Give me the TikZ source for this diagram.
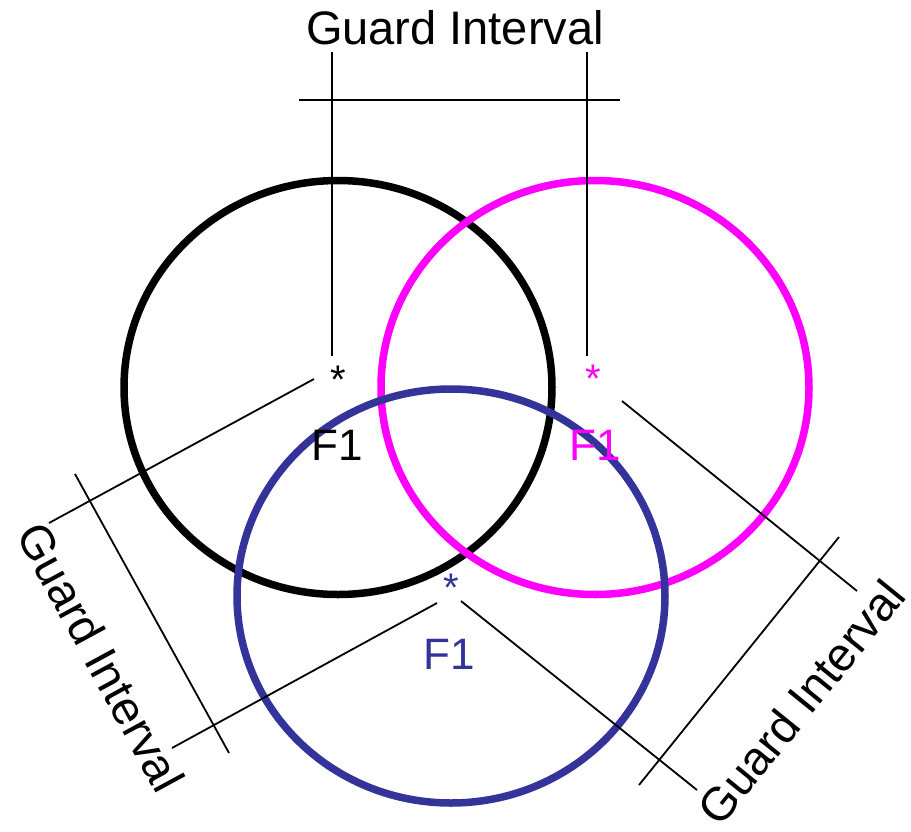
\documentclass[tikz,border=0pt]{standalone}
\usepackage{fontspec}
\setmainfont{Liberation Sans}
\usetikzlibrary{positioning}
\definecolor{fblue}{RGB}{51,51,153}
\definecolor{fmag}{RGB}{255,0,255}
\tikzset{
  ring/.style ={line width=7.5pt},
  gl/.style   ={line width=1.8pt},
  lbl/.style  ={font=\fontsize{44}{48}\selectfont, inner sep=0pt},
  gi/.style   ={font=\fontsize{47}{50}\selectfont, inner sep=0pt},
  star/.style ={font=\fontsize{40}{44}\selectfont, inner sep=0pt}
}
\begin{document}
\begin{tikzpicture}[x=1pt,y=-1pt]
  \useasboundingbox (0,0) rectangle (911,831);

  % the three cells
  \draw[ring, black] (338,387.5) ellipse [x radius=214, y radius=207];
  \draw[ring, fmag]  (595,387.5) ellipse [x radius=214, y radius=207];
  \draw[ring, fblue] (451,596)   ellipse [x radius=214, y radius=207];

  % cell centres and labels
  \node[star]              (sa) at (338,380) {*};
  \node[star, fmag]        (sb) at (593,379) {*};
  \node[star, fblue]       (sc) at (451,588) {*};
  \node[lbl]               (fa) at (337,445) {F1};
  \node[lbl, fmag]         (fb) at (595,445) {F1};
  \node[lbl, fblue]        (fc) at (449,654) {F1};

  % guard interval labels
  \node[gi]                 (gtop)   at (455,28)  {Guard Interval};
  \node[gi, rotate=-61.5]   (gleft)  at (101,657) {Guard Interval};
  \node[gi, rotate=51]      (gright) at (801,702) {Guard Interval};

  % top dimension
  \coordinate (ta0) at (332,52);  \coordinate (ta1) at (332,356);
  \coordinate (tb0) at (587,52);  \coordinate (tb1) at (587,356);
  \coordinate (th0) at (299,100); \coordinate (th1) at (620,100);
  \draw[gl] (ta0) -- (ta1);
  \draw[gl] (tb0) -- (tb1);
  \draw[gl] (th0) -- (th1);

  % left dimension
  \coordinate (la0) at (314,379); \coordinate (la1) at (49,523);
  \coordinate (lb0) at (437,603); \coordinate (lb1) at (172,748);
  \coordinate (lp0) at (75,474);  \coordinate (lp1) at (229,753);
  \draw[gl] (la0) -- (la1);
  \draw[gl] (lb0) -- (lb1);
  \draw[gl] (lp0) -- (lp1);

  % right dimension
  \coordinate (ra0) at (622,401); \coordinate (ra1) at (857,591);
  \coordinate (rb0) at (461,601); \coordinate (rb1) at (697,790);
  \coordinate (rp0) at (839,537); \coordinate (rp1) at (639,785);
  \draw[gl] (ra0) -- (ra1);
  \draw[gl] (rb0) -- (rb1);
  \draw[gl] (rp0) -- (rp1);
\end{tikzpicture}
\end{document}
